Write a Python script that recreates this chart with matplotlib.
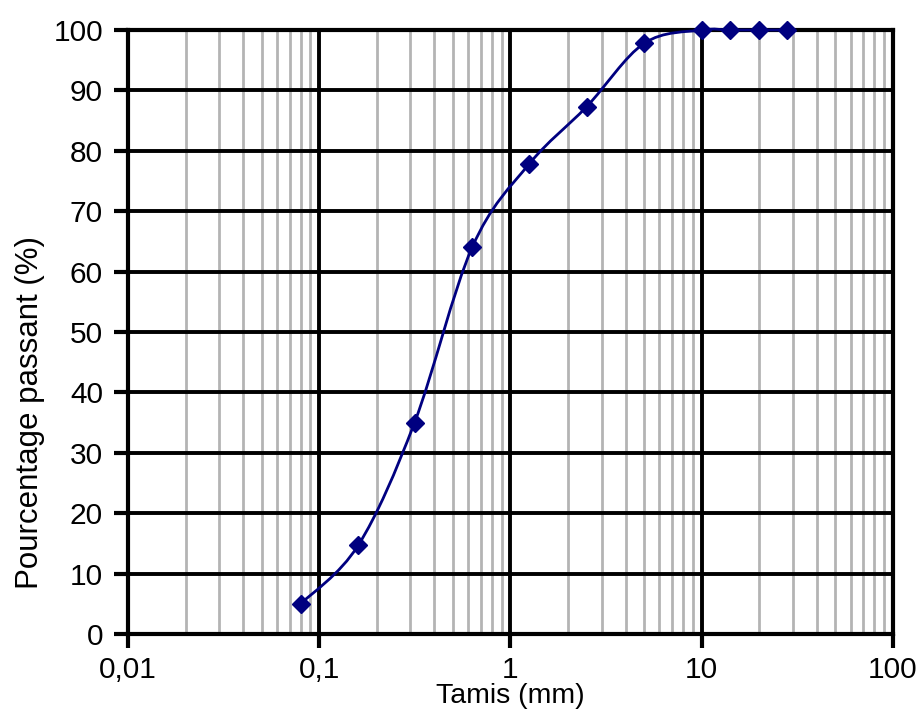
import numpy as np
import matplotlib.pyplot as plt
from matplotlib.path import Path
from matplotlib.patches import PathPatch
from matplotlib.ticker import FixedLocator, LogLocator, NullFormatter

plt.rcParams['font.family'] = ['Liberation Sans', 'DejaVu Sans']

# sieve opening (mm) and cumulative passing (%)
tamis = [0.08, 0.16, 0.315, 0.63, 1.25, 2.5, 5, 10, 14, 20, 28]
passant = [5, 14.7, 35, 64, 77.8, 87.3, 97.8, 100, 100, 100, 100]

x_ticks = [0.01, 0.1, 1, 10, 100]
x_labels = ['0,01', '0,1', '1', '10', '100']
y_ticks = list(range(0, 101, 10))

navy = '#000080'

fig = plt.figure(figsize=(9.18, 7.11), dpi=100)
ax = fig.add_axes([0.1394, 0.1083, 0.8334, 0.8495])
ax.set_xscale('log')
ax.set_xlim(0.01, 100)
ax.set_ylim(0, 100)

# smoothed line, Excel style (cardinal bezier in log-x / linear-y space)
lx = np.log10(tamis)
py = np.array(passant, dtype=float)
n = len(lx)
verts = [(lx[0], py[0])]
codes = [Path.MOVETO]
for i in range(n - 1):
    i0 = max(i - 1, 0)
    i3 = min(i + 2, n - 1)
    c1 = (lx[i] + (lx[i + 1] - lx[i0]) / 6, py[i] + (py[i + 1] - py[i0]) / 6)
    c2 = (lx[i + 1] - (lx[i3] - lx[i]) / 6, py[i + 1] - (py[i3] - py[i]) / 6)
    verts += [c1, c2, (lx[i + 1], py[i + 1])]
    codes += [Path.CURVE4] * 3
verts = [(10 ** vx, vy) for vx, vy in verts]
ax.add_patch(PathPatch(Path(verts, codes), fill=False, edgecolor=navy,
                       lw=2, zorder=4, clip_on=False))
ax.plot(tamis, passant, ls='none', marker='D', ms=9, color=navy, zorder=5,
        clip_on=False)

ax.xaxis.set_major_locator(FixedLocator(x_ticks))
ax.set_xticklabels(x_labels)
ax.xaxis.set_minor_locator(LogLocator(base=10, subs=np.arange(2, 10)))
ax.xaxis.set_minor_formatter(NullFormatter())
ax.set_yticks(y_ticks)

ax.grid(True, which='major', axis='both', color='black', lw=2.8, zorder=1)
ax.grid(True, which='minor', axis='x', color='#b4b4b4', lw=2, zorder=0)
ax.set_axisbelow(True)
for s in ax.spines.values():
    s.set_linewidth(3)
ax.tick_params(which='major', length=10, width=3, labelsize=21.5, pad=8)
ax.tick_params(axis='x', which='major', pad=6)
ax.tick_params(which='minor', length=0)

ax.set_xlabel('Tamis (mm)', fontsize=20.5, labelpad=-1)
ax.set_ylabel('Pourcentage passant (%)', fontsize=22.5)
ax.yaxis.set_label_coords(-0.108, 0.367)

fig.savefig('out.png', dpi=100)
